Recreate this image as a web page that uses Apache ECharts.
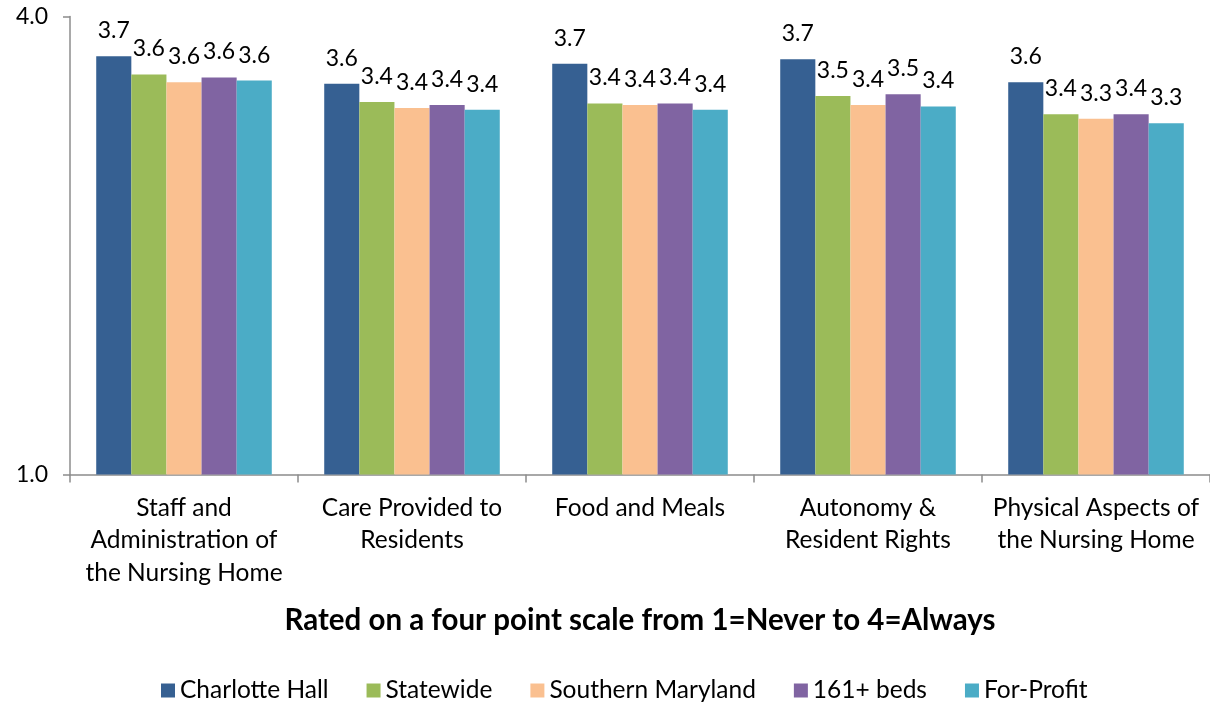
<!DOCTYPE html>
<html>
<head>
<meta charset="utf-8">
<script src="https://cdn.jsdelivr.net/npm/echarts@6/dist/echarts.min.js"></script>
<style>
html,body{margin:0;padding:0;background:#fff;}
#chart{width:1210px;height:708px;}
</style>
</head>
<body>
<div id="chart"></div>
<script>
var categories = [
  "Staff and\nAdministration of\nthe Nursing Home",
  "Care Provided to\nResidents",
  "Food and Meals",
  "Autonomy &\nResident Rights",
  "Physical Aspects of\nthe Nursing Home"
];
var seriesNames = ["Charlotte Hall", "Statewide", "Southern Maryland", "161+ beds", "For-Profit"];
var charlotteHall = [3.74, 3.56, 3.69, 3.72, 3.57];
var statewide = [3.62, 3.44, 3.43, 3.48, 3.36];
var southernMaryland = [3.57, 3.40, 3.42, 3.42, 3.33];
var beds161 = [3.60, 3.42, 3.43, 3.49, 3.36];
var forProfit = [3.58, 3.39, 3.39, 3.41, 3.30];
var yTicks = [1.0, 4.0];
var xTitle = "Rated on a four point scale from 1=Never to 4=Always";

var colors = ["#366092", "#9BBB59", "#FAC090", "#8064A2", "#4BACC6"];
var allData = [charlotteHall, statewide, southernMaryland, beds161, forProfit];
var FONT = "Lato";

var chart = echarts.init(document.getElementById('chart'));
var series = seriesNames.map(function (name, i) {
  return {
    name: name,
    type: 'bar',
    data: allData[i],
    barGap: '0%',
    barCategoryGap: '23%',
    itemStyle: { color: colors[i] },
    label: {
      show: true,
      position: 'top',
      distance: 14,
      color: '#000',
      fontFamily: FONT,
      fontSize: 23,
      formatter: function (p) { return Number(p.value).toFixed(1); }
    }
  };
});

chart.setOption({
  animation: false,
  backgroundColor: '#fff',
  color: colors,
  textStyle: { fontFamily: FONT },
  grid: { left: 70, width: 1143, top: 16.5, bottom: 233.5 },
  xAxis: {
    type: 'category',
    data: categories,
    axisLine: { show: true, lineStyle: { color: '#8c8c8c', width: 1.5 } },
    axisTick: { show: true, length: 8, lineStyle: { color: '#8c8c8c', width: 1.5 } },
    axisLabel: { color: '#000', fontFamily: FONT, fontSize: 24.5, lineHeight: 32.5, margin: 17, interval: 0 },
    name: xTitle,
    nameLocation: 'middle',
    nameGap: 131,
    nameTextStyle: { color: '#000', fontFamily: FONT, fontSize: 29.5, fontWeight: 'bold' }
  },
  yAxis: {
    type: 'value',
    min: yTicks[0],
    max: yTicks[1],
    interval: yTicks[1] - yTicks[0],
    splitLine: { show: false },
    axisLine: { show: true, lineStyle: { color: '#8c8c8c', width: 1.5 } },
    axisTick: { show: true, length: 7, lineStyle: { color: '#8c8c8c', width: 1.5 } },
    axisLabel: { color: '#000', fontFamily: FONT, fontSize: 23, margin: 22,
      formatter: function (v) { return Number(v).toFixed(1); } }
  },
  legend: {
    bottom: 0,
    left: 156,
    icon: 'rect',
    itemWidth: 14,
    itemHeight: 14,
    itemGap: 38,
    textStyle: { color: '#000', fontFamily: FONT, fontSize: 24.5 },
    data: seriesNames
  },
  series: series
});
</script>
</body>
</html>
